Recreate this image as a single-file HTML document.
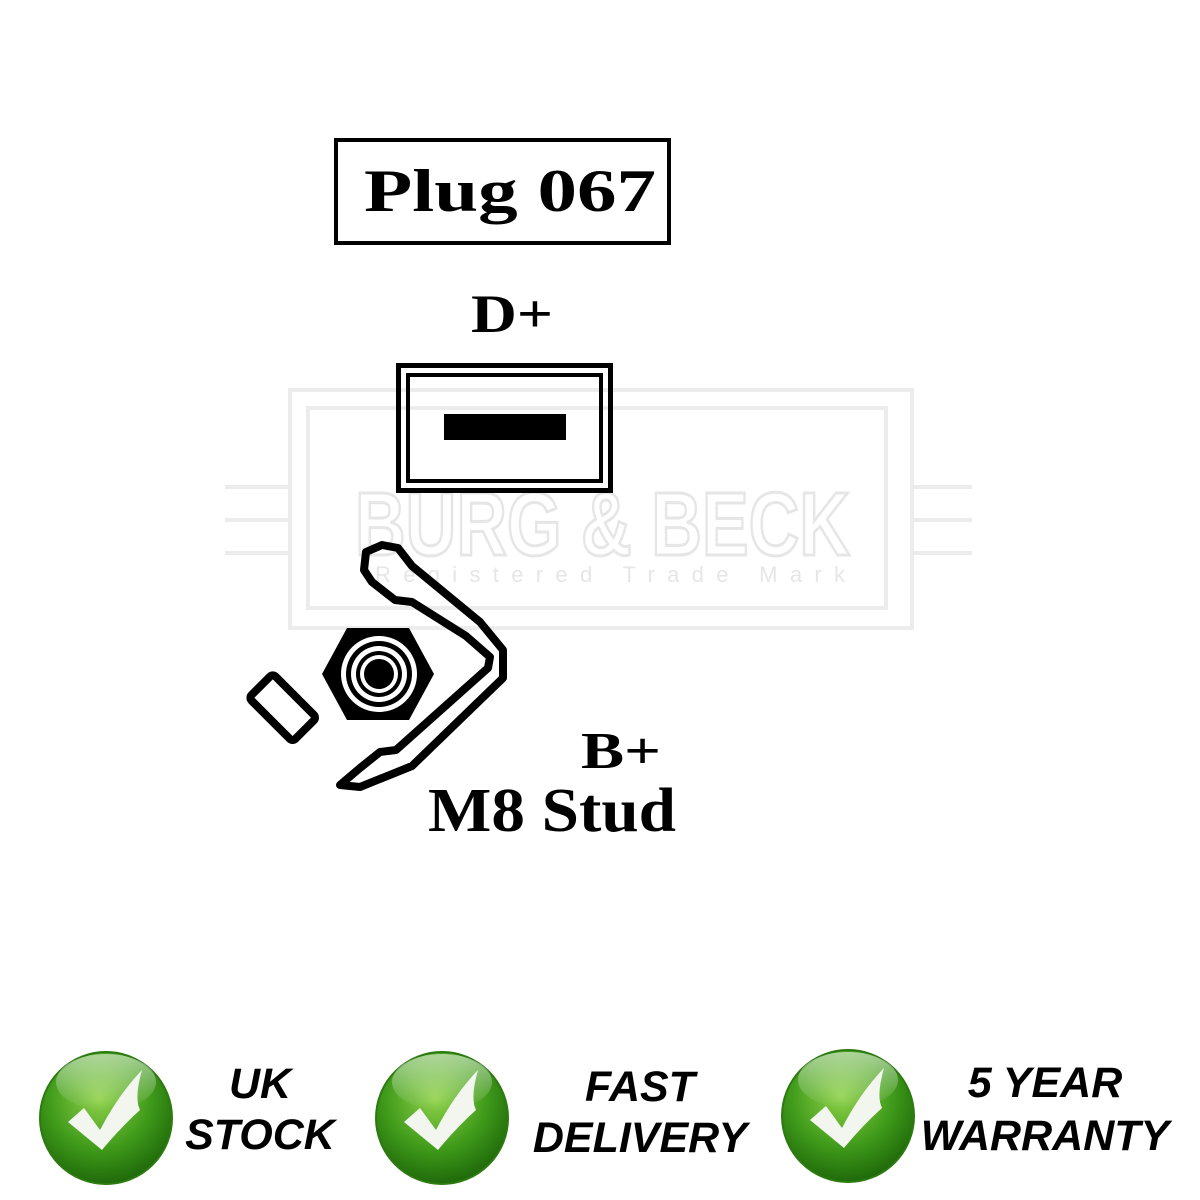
<!DOCTYPE html>
<html><head><meta charset="utf-8"><style>
html,body{margin:0;padding:0;background:#fff;width:1200px;height:1200px;overflow:hidden}
</style></head><body>
<svg width="1200" height="1200" viewBox="0 0 1200 1200" xmlns="http://www.w3.org/2000/svg">
<defs>
<radialGradient id="g" cx="45%" cy="35%" r="65%">
<stop offset="0" stop-color="#8fd24a"/><stop offset="0.6" stop-color="#3f9a1a"/><stop offset="1" stop-color="#1f6a0a"/>
</radialGradient>
<linearGradient id="hl" x1="0" y1="0" x2="0" y2="1">
<stop offset="0" stop-color="#fff" stop-opacity="0.55"/><stop offset="1" stop-color="#fff" stop-opacity="0"/>
</linearGradient>
</defs>
<g fill="none" stroke="#ececec" stroke-width="4">
<rect x="290" y="390" width="622" height="238"/>
<rect x="308" y="408" width="578" height="200"/>
<line x1="225" y1="487" x2="290" y2="487"/><line x1="225" y1="520" x2="290" y2="520"/><line x1="225" y1="553" x2="290" y2="553"/>
<line x1="912" y1="487" x2="972" y2="487"/><line x1="912" y1="520" x2="972" y2="520"/><line x1="912" y1="553" x2="972" y2="553"/>
</g>
<text x="355" y="555" font-family="Liberation Sans, sans-serif" font-weight="bold" font-size="90" fill="none" stroke="#e6e6e6" stroke-width="3" textLength="495" lengthAdjust="spacingAndGlyphs">BURG &amp; BECK</text>
<text x="375" y="582" font-family="Liberation Sans, sans-serif" font-size="22" fill="#e6e6e6" textLength="470">Registered Trade Mark</text>

<rect x="336" y="140" width="333" height="103" fill="none" stroke="#000" stroke-width="4"/>
<text x="364" y="211" font-family="Liberation Serif, serif" font-weight="bold" font-size="60" fill="#000" textLength="292" lengthAdjust="spacingAndGlyphs">Plug 067</text>
<text x="471" y="332" font-family="Liberation Serif, serif" font-weight="bold" font-size="54" fill="#000" textLength="82" lengthAdjust="spacingAndGlyphs">D+</text>

<rect x="398.5" y="365.5" width="212" height="125" fill="none" stroke="#000" stroke-width="5"/>
<rect x="408" y="375" width="193" height="106" fill="none" stroke="#000" stroke-width="4"/>
<rect x="444" y="414" width="122" height="26" fill="#000"/>

<polygon points="347,628 409,628 434,674 409,720 347,720 322,674" fill="#000"/>
<circle cx="379" cy="674" r="38" fill="#fff"/>
<circle cx="379" cy="674" r="33" fill="#000"/>
<circle cx="379" cy="674" r="28" fill="#fff"/>
<circle cx="379" cy="674" r="23" fill="#000"/>
<circle cx="379" cy="674" r="19" fill="#fff"/>
<circle cx="379" cy="674" r="15" fill="#000"/>
<g transform="rotate(45 282 707)">
<rect x="252" y="690" width="62" height="34" rx="4" fill="none" stroke="#000" stroke-width="8"/>
</g>
<polygon points="366,552 382,545 398,548 412,566 480,622 503,650 503,678 412,766 360,787 340,785 360,768 380,752 396,750 488,668 490,657 466,636 412,602 395,600 372,582 364,570" fill="none" stroke="#000" stroke-width="8" stroke-linejoin="round"/>

<text x="581" y="768" font-family="Liberation Serif, serif" font-weight="bold" font-size="52" fill="#000" textLength="80" lengthAdjust="spacingAndGlyphs">B+</text>
<text x="428" y="831" font-family="Liberation Serif, serif" font-weight="bold" font-size="62" fill="#000" textLength="248" lengthAdjust="spacingAndGlyphs">M8 Stud</text>

<g>
<circle cx="106" cy="1118" r="66" fill="url(#g)" stroke="#2d7a10" stroke-width="2"/>
<ellipse cx="106" cy="1082" rx="50" ry="28" fill="url(#hl)"/>
<path d="M68,1122 L84,1108 L100,1130 Q118,1095 142,1070 Q134,1098 140,1110 Q120,1128 102,1150 Z" fill="#f2f6ee"/>
</g>
<g>
<circle cx="442" cy="1118" r="66" fill="url(#g)" stroke="#2d7a10" stroke-width="2"/>
<ellipse cx="442" cy="1082" rx="50" ry="28" fill="url(#hl)"/>
<path d="M404,1122 L420,1108 L436,1130 Q454,1095 478,1070 Q470,1098 476,1110 Q456,1128 438,1150 Z" fill="#f2f6ee"/>
</g>
<g>
<circle cx="848" cy="1116" r="66" fill="url(#g)" stroke="#2d7a10" stroke-width="2"/>
<ellipse cx="848" cy="1080" rx="50" ry="28" fill="url(#hl)"/>
<path d="M810,1120 L826,1106 L842,1128 Q860,1093 884,1068 Q876,1096 882,1108 Q862,1126 844,1148 Z" fill="#f2f6ee"/>
</g>
<g font-family="Liberation Sans, sans-serif" font-weight="bold" font-style="italic" font-size="43" fill="#000" text-anchor="middle">
<text x="260" y="1098">UK</text>
<text x="260" y="1149">STOCK</text>
<text x="640" y="1101">FAST</text>
<text x="640" y="1152">DELIVERY</text>
<text x="1045" y="1097">5 YEAR</text>
<text x="1045" y="1150">WARRANTY</text>
</g>
</svg>
</body></html>
